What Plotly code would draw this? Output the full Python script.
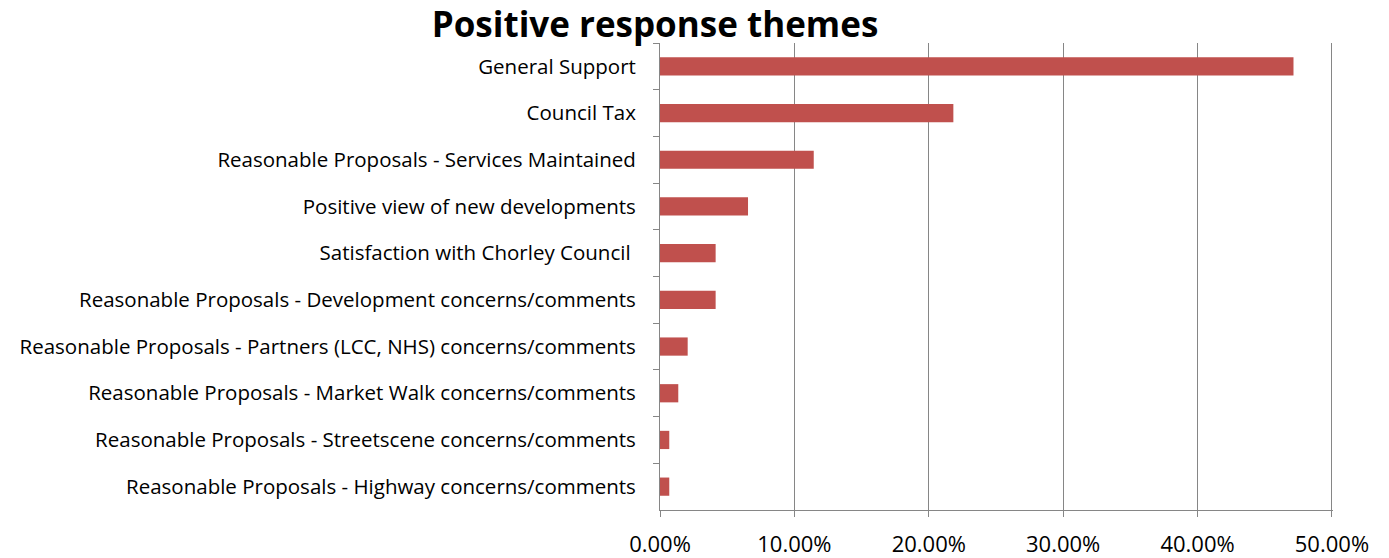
import plotly.graph_objects as go

# Positive response themes, share of positive responses (fraction)
themes = [
    "General Support",
    "Council Tax",
    "Reasonable Proposals - Services Maintained",
    "Positive view of new developments",
    "Satisfaction with Chorley Council\u00a0",
    "Reasonable Proposals - Development concerns/comments",
    "Reasonable Proposals - Partners (LCC, NHS) concerns/comments",
    "Reasonable Proposals - Market Walk concerns/comments",
    "Reasonable Proposals - Streetscene concerns/comments",
    "Reasonable Proposals - Highway concerns/comments",
]
shares = [0.4714, 0.2183, 0.1144, 0.0655, 0.0414, 0.0414, 0.0206, 0.0136, 0.0069, 0.0069]
x_ticks = [0, 0.1, 0.2, 0.3, 0.4, 0.5]

BAR_RED = "#C0504D"
AXIS_GREY = "#868686"
FONT = "Open Sans"

fig = go.Figure(
    go.Bar(
        x=shares,
        y=themes,
        orientation="h",
        marker=dict(color=BAR_RED, line=dict(width=0)),
        width=0.39,
    )
)

fig.update_layout(
    width=1389,
    height=558,
    margin=dict(l=660, r=56, t=43, b=48),
    paper_bgcolor="white",
    plot_bgcolor="white",
    showlegend=False,
    font=dict(family=FONT, color="black", size=20),
    title=dict(
        text="<b>Positive response themes</b>",
        x=655 / 1389,
        xanchor="center",
        y=1 - 25 / 558,
        yanchor="middle",
        font=dict(family=FONT, size=35, color="black"),
    ),
)

fig.update_xaxes(
    range=[0, 0.5008],
    tickvals=x_ticks,
    tickformat=".2%",
    showgrid=True,
    gridcolor=AXIS_GREY,
    gridwidth=1,
    showline=True,
    linecolor=AXIS_GREY,
    linewidth=1,
    ticks="outside",
    ticklen=6,
    tickcolor=AXIS_GREY,
    zeroline=False,
    automargin=False,
    tickfont=dict(family=FONT, size=22, color="black"),
    ticklabelstandoff=9,
)

fig.update_yaxes(
    autorange="reversed",
    showgrid=False,
    showline=True,
    linecolor=AXIS_GREY,
    linewidth=1,
    ticks="outside",
    tickson="boundaries",
    ticklen=6,
    tickcolor=AXIS_GREY,
    automargin=False,
    tickfont=dict(family=FONT, size=20.5, color="black"),
    ticklabelstandoff=19,
)

fig.write_html("out.html")
